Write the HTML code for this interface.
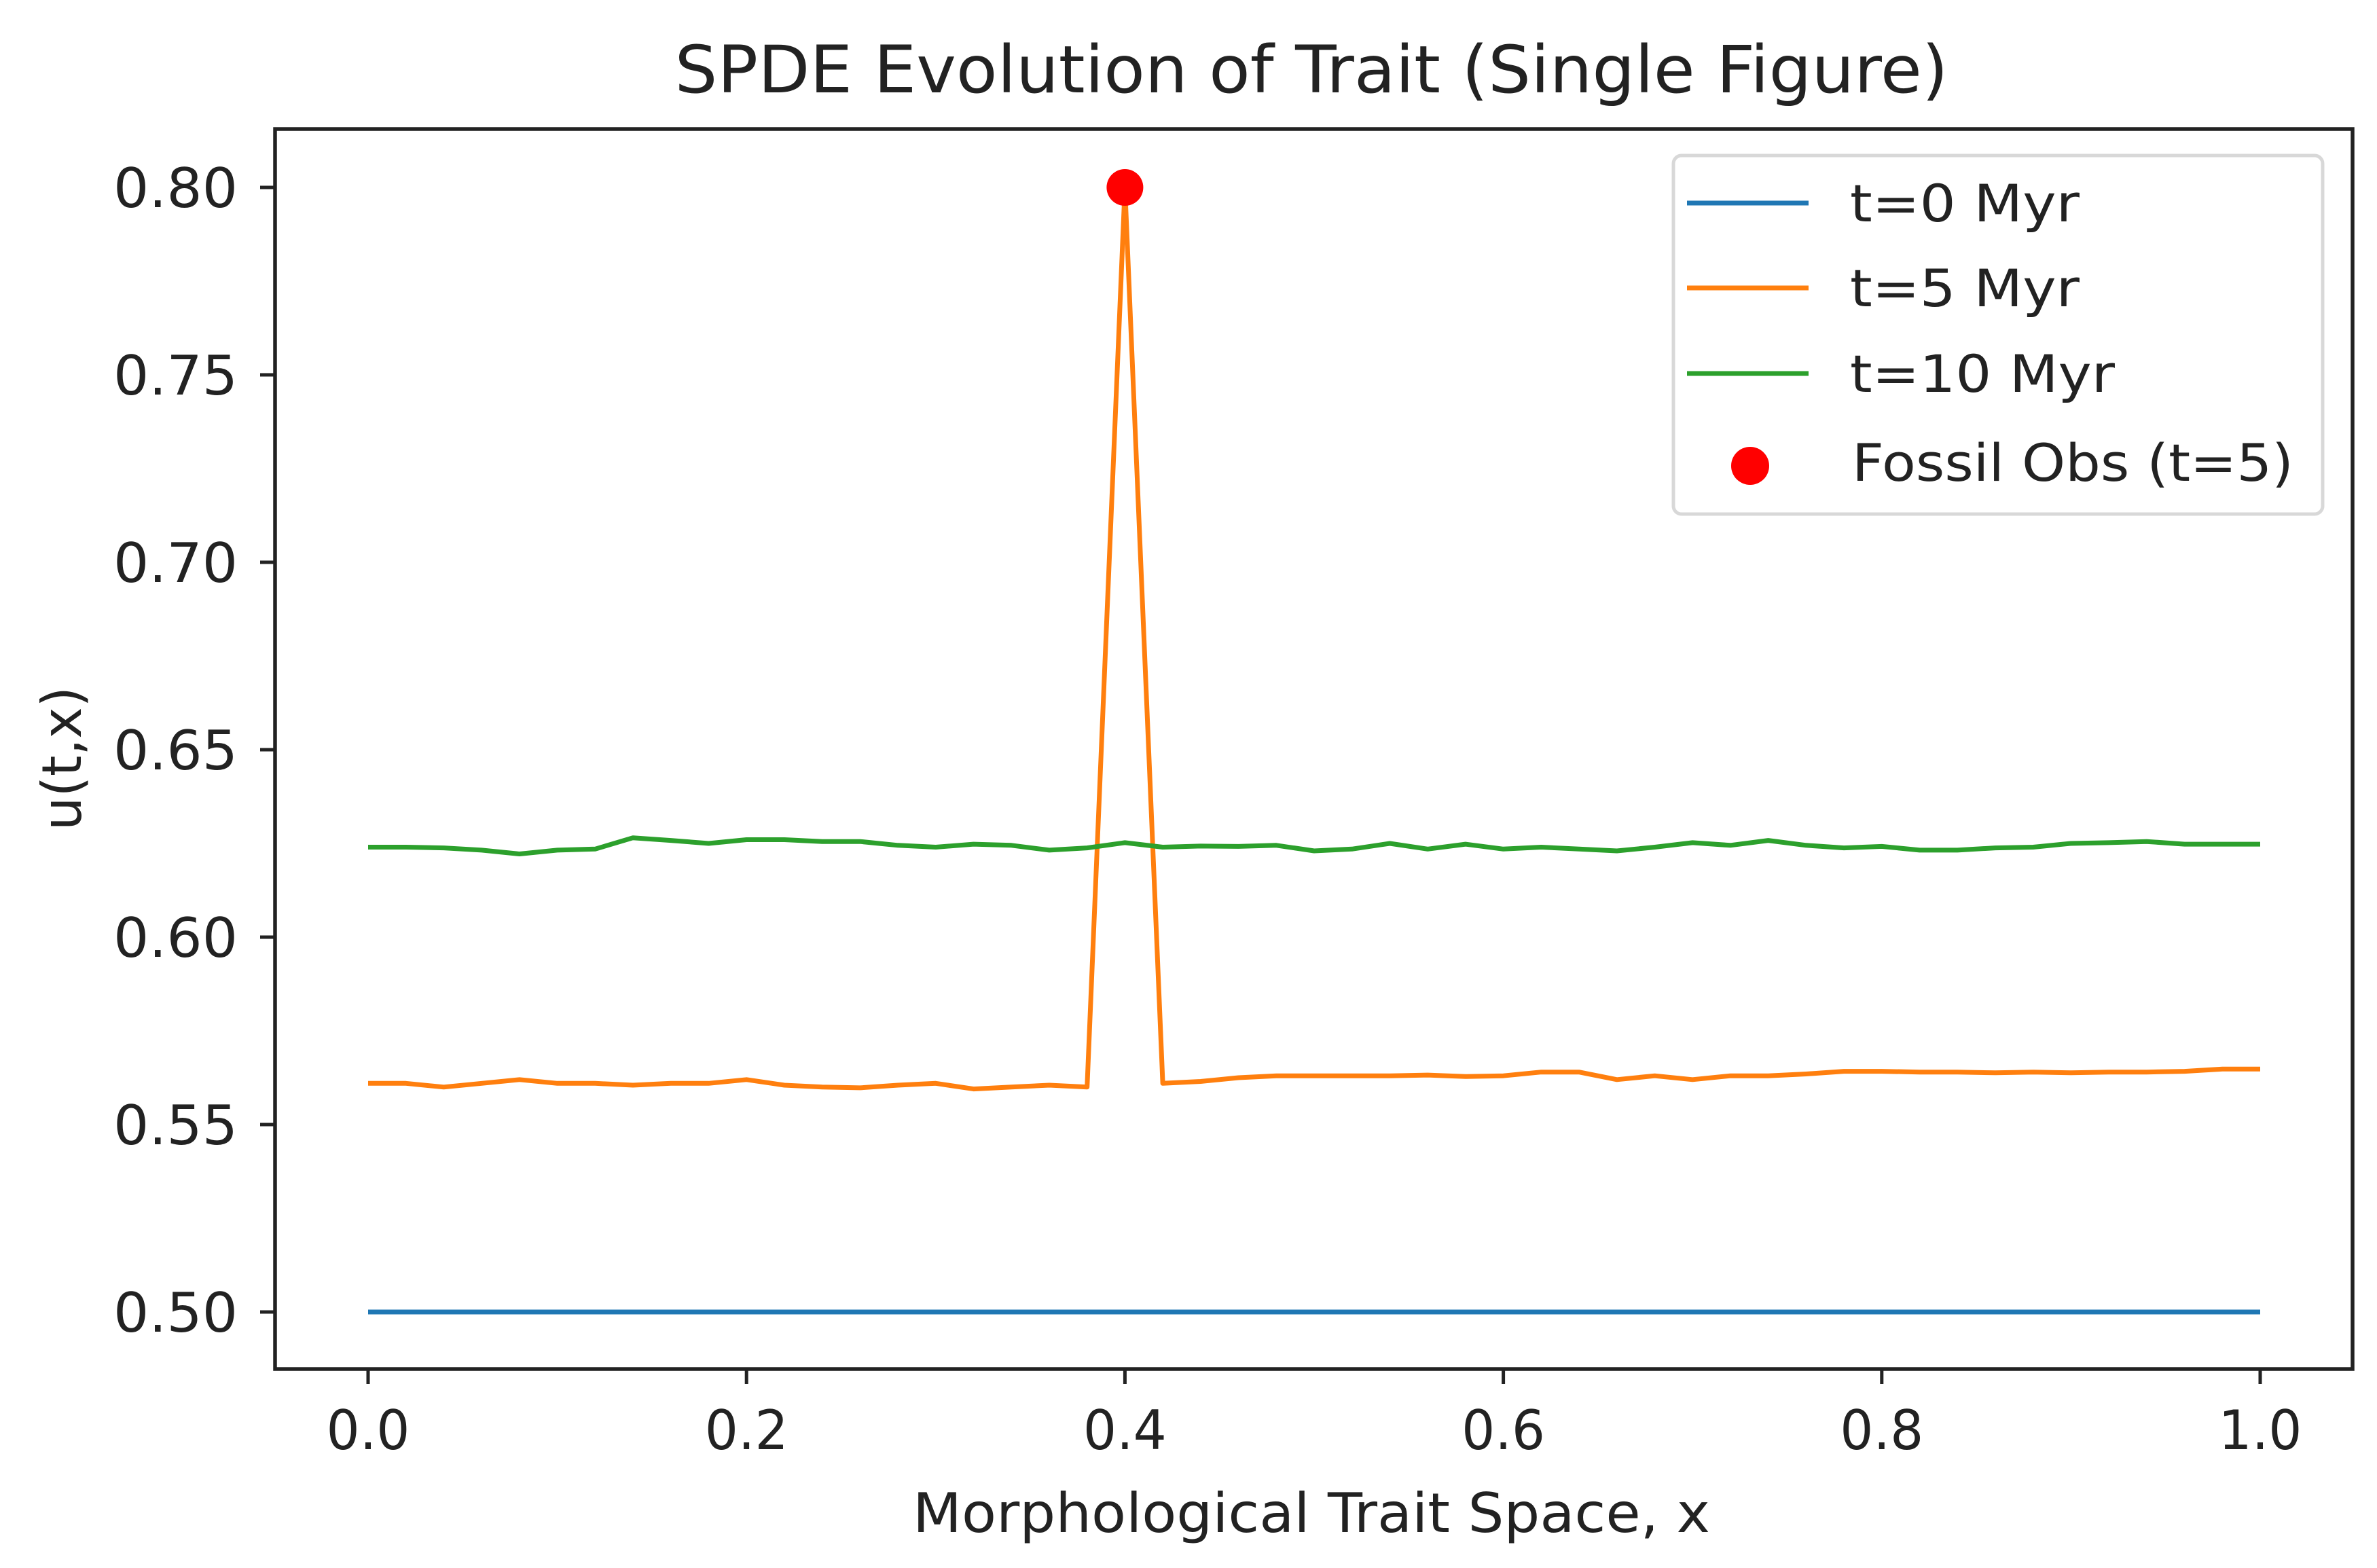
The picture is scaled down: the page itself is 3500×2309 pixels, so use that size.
<!DOCTYPE html>
<html><head><meta charset="utf-8"><style>
html,body{margin:0;padding:0;background:#fff;}
svg text{font-family:"DejaVu Sans","Liberation Sans",sans-serif;fill:#222;}
</style></head><body>
<svg id="chart" width="3500" height="2304" viewBox="0 0 3500 2304" xmlns="http://www.w3.org/2000/svg">
<rect x="0" y="0" width="3500" height="2304" fill="#fff"/>
<text x="1931" y="136" font-size="96" text-anchor="middle" textLength="1875" lengthAdjust="spacingAndGlyphs">SPDE Evolution of Trait (Single Figure)</text>
<g id="plot"></g>
<rect x="405" y="190" width="3059" height="1826" fill="none" stroke="#222" stroke-width="5.5"/>
<g id="ticks"></g>
<text x="1931" y="2256" font-size="80" text-anchor="middle" textLength="1174" lengthAdjust="spacingAndGlyphs">Morphological Trait Space, x</text>
<text transform="translate(119,1117) rotate(-90)" font-size="80" text-anchor="middle" textLength="212" lengthAdjust="spacingAndGlyphs">u(t,x)</text>
<g>
<rect x="2464" y="229" width="956" height="528" rx="12" fill="#fff" stroke="#d8d8d8" stroke-width="5"/>
<g>
<line x1="2484" y1="299" x2="2663" y2="299" stroke="#1f77b4" stroke-width="7"/>
<text x="2724" y="326" font-size="76" textLength="338" lengthAdjust="spacingAndGlyphs">t=0 Myr</text></g>
<g>
<line x1="2484" y1="424" x2="2663" y2="424" stroke="#ff7f0e" stroke-width="7"/>
<text x="2724" y="451" font-size="76" textLength="338" lengthAdjust="spacingAndGlyphs">t=5 Myr</text></g>
<g>
<line x1="2484" y1="550" x2="2663" y2="550" stroke="#2ca02c" stroke-width="7"/>
<text x="2724" y="577" font-size="76" textLength="390" lengthAdjust="spacingAndGlyphs">t=10 Myr</text></g>
<g>
<ellipse cx="2577" cy="686" rx="28" ry="28" fill="#ff0000"/>
<text x="2727" y="708" font-size="76" textLength="650" lengthAdjust="spacingAndGlyphs">Fossil Obs (t=5)</text></g>
</g>
</svg>
<script>
const xTicks = [0.0, 0.2, 0.4, 0.6, 0.8, 1.0];
const xTickLabels = ["0.0", "0.2", "0.4", "0.6", "0.8", "1.0"];
const yTicks = [0.50, 0.55, 0.60, 0.65, 0.70, 0.75, 0.80];
const yTickLabels = ["0.50", "0.55", "0.60", "0.65", "0.70", "0.75", "0.80"];
const t0Values = [0.5,0.5,0.5,0.5,0.5,0.5,0.5,0.5,0.5,0.5,0.5,0.5,0.5,0.5,0.5,0.5,0.5,0.5,0.5,0.5,0.5,0.5,0.5,0.5,0.5,0.5,0.5,0.5,0.5,0.5,0.5,0.5,0.5,0.5,0.5,0.5,0.5,0.5,0.5,0.5,0.5,0.5,0.5,0.5,0.5,0.5,0.5,0.5,0.5,0.5,0.5];
const t5Values = [0.561,0.561,0.560,0.561,0.562,0.561,0.561,0.5605,0.561,0.561,0.562,0.5605,0.560,0.5598,0.5605,0.561,0.5595,0.560,0.5605,0.560,0.80,0.561,0.5615,0.5625,0.563,0.563,0.563,0.563,0.5632,0.5628,0.563,0.564,0.564,0.562,0.563,0.562,0.563,0.563,0.5635,0.5642,0.5642,0.564,0.564,0.5638,0.564,0.5638,0.564,0.564,0.5642,0.5648,0.5648];
const t10Values = [0.624,0.624,0.6238,0.6232,0.6222,0.6232,0.6235,0.6265,0.6258,0.625,0.626,0.626,0.6255,0.6255,0.6245,0.624,0.6248,0.6245,0.6232,0.6238,0.6252,0.624,0.6243,0.6242,0.6245,0.623,0.6235,0.625,0.6235,0.6248,0.6235,0.624,0.6235,0.623,0.624,0.6252,0.6245,0.6258,0.6245,0.6238,0.6242,0.6232,0.6232,0.6238,0.624,0.625,0.6252,0.6255,0.6248,0.6248,0.6248];
const fossilX = [0.4];
const fossilY = [0.8];

const NS = "http://www.w3.org/2000/svg";
function xs(v){ return 542 + v * 2786; }
function ys(v){ return 1932 - (v - 0.5) / 0.05 * 276; }
const plot = document.getElementById('plot');
const ticks = document.getElementById('ticks');
function mk(tag, attrs, parent){ const e=document.createElementNS(NS,tag); for(const k in attrs) e.setAttribute(k,attrs[k]); parent.appendChild(e); return e; }

function series(vals, color, name){
  const n = vals.length;
  const pts = vals.map((v,i)=> xs(i/(n-1)).toFixed(1)+','+ys(v).toFixed(1)).join(' ');
  const p = mk('polyline',{points:pts,fill:'none',stroke:color,'stroke-width':7,'stroke-linejoin':'round','stroke-linecap':'butt'},plot);
  
  
}
series(t0Values,'#1f77b4','line-t0');
series(t5Values,'#ff7f0e','line-t5');
series(t10Values,'#2ca02c','line-t10');
fossilX.forEach((fx,i)=>{
  const c = mk('circle',{cx:xs(fx),cy:ys(fossilY[i]),r:27,fill:'#ff0000'},plot);
  
  
});

xTicks.forEach((v,i)=>{
  const l = mk('line',{x1:xs(v),x2:xs(v),y1:2016,y2:2038,stroke:'#222','stroke-width':5},ticks);
  
  
  const t = mk('text',{x:xs(v),y:2134,'font-size':80,'text-anchor':'middle',textLength:123,lengthAdjust:'spacingAndGlyphs'},ticks);
  t.textContent = xTickLabels[i];
  
  
});
yTicks.forEach((v,i)=>{
  const l = mk('line',{x1:383,x2:405,y1:ys(v),y2:ys(v),stroke:'#222','stroke-width':5},ticks);
  
  
  const t = mk('text',{x:350,y:ys(v)+29,'font-size':80,'text-anchor':'end',textLength:183,lengthAdjust:'spacingAndGlyphs'},ticks);
  t.textContent = yTickLabels[i];
  
  
});
</script>
</body></html>
